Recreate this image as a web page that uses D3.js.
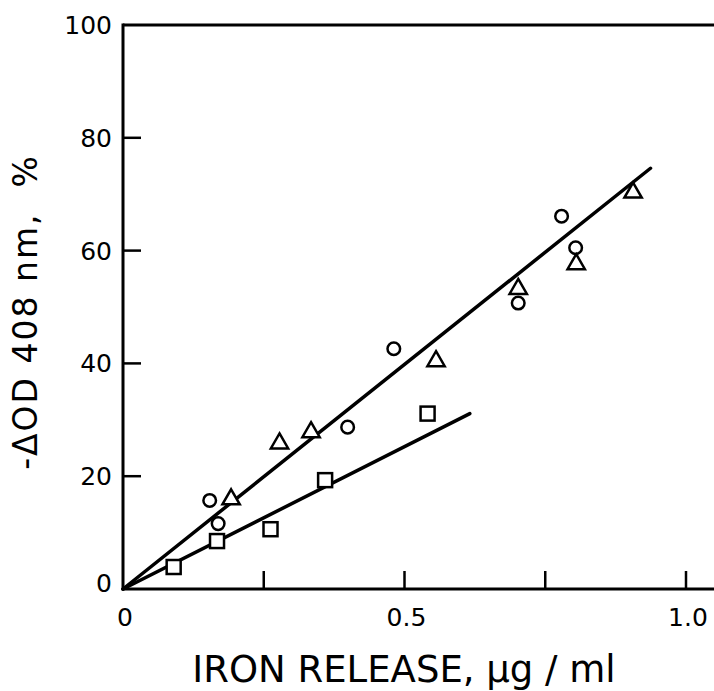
<!DOCTYPE html>
<html>
<head>
<meta charset="utf-8">
<script src="https://cdn.jsdelivr.net/npm/d3@7"></script>
<style>
  body { margin: 0; background: #fff; }
  text { font-family: "DejaVu Sans", sans-serif; fill: #000; }
</style>
</head>
<body>
<div id="chart"></div>
<script>
// Data
const circleX = [0.154, 0.169, 0.399, 0.481, 0.702, 0.779, 0.804];
const circleY = [15.7, 11.6, 28.7, 42.6, 50.7, 66.1, 60.5];

const triangleX = [0.192, 0.278, 0.334, 0.556, 0.702, 0.805, 0.906];
const triangleY = [15.9, 25.8, 27.8, 40.4, 53.2, 57.6, 70.3];

const squareX = [0.09, 0.167, 0.262, 0.359, 0.541];
const squareY = [3.9, 8.5, 10.6, 19.3, 31.1];

// fitted lines, start and end points
const line1X = [0, 0.937];
const line1Y = [0, 74.6];
const line2X = [0, 0.616];
const line2Y = [0, 31.1];

const xTicks = [0.25, 0.5, 0.75, 1.0];
const xLabels = [0, 0.5, 1.0];
const xLabelText = ['0', '0.5', '1.0'];
const yTicks = [20, 40, 60, 80];
const yLabels = [0, 20, 40, 60, 80, 100];

const width = 714, height = 691;

const svg = d3.select('#chart')
  .append('svg')
  .attr('width', width)
  .attr('height', height);

const x = d3.scaleLinear().domain([0, 1]).range([123, 686]);
const y = d3.scaleLinear().domain([0, 100]).range([589, 25]);

// Axis frame
const frame = svg.append('g').attr('stroke', '#000').attr('stroke-width', 3).attr('fill', 'none');
frame.append('line')
  .attr('x1', x(0)).attr('x2', x(0))
  .attr('y1', y(0) + 1.5).attr('y2', y(100) - 1.5);
frame.append('line')
  .attr('x1', x(0)).attr('x2', width)
  .attr('y1', y(0)).attr('y2', y(0));
frame.append('line')
  .attr('x1', x(0)).attr('x2', width)
  .attr('y1', y(100)).attr('y2', y(100));

// Ticks pointing inwards
frame.selectAll('.xt')
  .data(xTicks)
  .enter().append('line')
  .attr('x1', d => x(d)).attr('x2', d => x(d))
  .attr('y1', y(0)).attr('y2', y(0) - 18)
  .attr('stroke-width', 2.5);

frame.selectAll('.yt')
  .data(yTicks)
  .enter().append('line')
  .attr('x1', x(0)).attr('x2', x(0) + 18)
  .attr('y1', d => y(d)).attr('y2', d => y(d))
  .attr('stroke-width', 2.5);

// Tick labels
svg.selectAll('.xl')
  .data(xLabels)
  .enter().append('text')
  .attr('x', d => x(d) + 2)
  .attr('y', 626)
  .attr('text-anchor', 'middle')
  .style('font-size', '25px')
  .text((d, i) => xLabelText[i]);

svg.selectAll('.yl')
  .data(yLabels)
  .enter().append('text')
  .attr('x', 112)
  .attr('y', d => y(d) + 9 - (d === 0 ? 6 : 0))
  .attr('text-anchor', 'end')
  .style('font-size', '25px')
  .text(d => d);

// Axis titles
svg.append('text')
  .attr('x', 404)
  .attr('y', 682)
  .attr('text-anchor', 'middle')
  .style('font-size', '37px')
  .text('IRON RELEASE, \u00b5g / ml');

svg.append('text')
  .attr('transform', 'translate(37,312) rotate(-90)')
  .attr('text-anchor', 'middle')
  .style('font-size', '33px')
  .style('letter-spacing', '2px')
  .style('white-space', 'pre')
  .text('-\u0394OD 408 nm,  %');

// Fitted lines
const lineGen = d3.line().x(d => x(d[0])).y(d => y(d[1]));
[[line1X, line1Y], [line2X, line2Y]].forEach(([lx, ly]) => {
  svg.append('path')
    .datum(d3.zip(lx, ly))
    .attr('d', lineGen)
    .attr('fill', 'none')
    .attr('stroke', '#000')
    .attr('stroke-width', 3.5)
    .attr('stroke-linecap', 'round');
});

// Markers
const marks = svg.append('g').attr('fill', '#fff').attr('stroke', '#000').attr('stroke-width', 2.5);

marks.selectAll('.c')
  .data(d3.zip(circleX, circleY))
  .enter().append('circle')
  .attr('cx', d => x(d[0]))
  .attr('cy', d => y(d[1]))
  .attr('r', 6.3);

const tri = d3.symbol().type(d3.symbolTriangle).size(130);
marks.selectAll('.t')
  .data(d3.zip(triangleX, triangleY))
  .enter().append('path')
  .attr('d', tri)
  .attr('stroke-linejoin', 'miter')
  .attr('transform', d => `translate(${x(d[0])},${y(d[1])})`);

marks.selectAll('.s')
  .data(d3.zip(squareX, squareY))
  .enter().append('rect')
  .attr('x', d => x(d[0]) - 7)
  .attr('y', d => y(d[1]) - 7)
  .attr('width', 14)
  .attr('height', 14);
</script>
</body>
</html>
